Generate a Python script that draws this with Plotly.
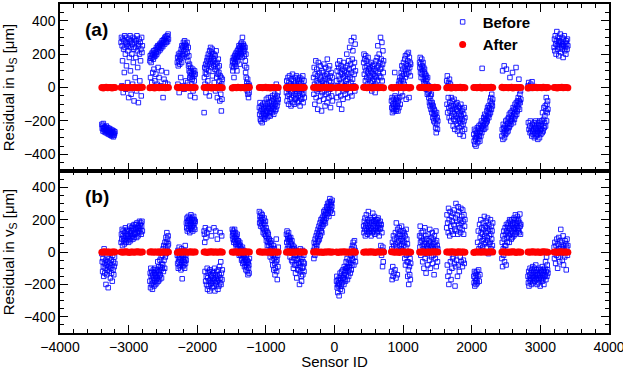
import numpy as np
import plotly.graph_objects as go
from plotly.subplots import make_subplots

# sensor ID span of each of the 18 modules
mod_start = [-3390, -3110, -2690, -2290, -1900, -1490, -1095, -700, -305,
             30, 425, 830, 1240, 1635, 2030, 2440, 2820, 3200]
mod_end = [-3200, -2800, -2420, -2030, -1635, -1240, -820, -440, -30,
           305, 715, 1110, 1505, 1900, 2305, 2715, 3110, 3400]

# residual in u_S before alignment [um], one list per module (left to right in sensor ID)
before_u = [
    [-220, -245, -230, -260, -215, -250, -240, -265, -235, -255, -245, -270, -230, -260, -250, -275, -240, -265,
     -255, -280, -245, -270, -260, -285, -250, -275, -265, -290, -255, -280, -270, -295, -260, -285, -275, -265],
    [270, 300, 10, 250, 160, 290, -30, 230, 280, 90, 310, 240, 200, -10, 270, 130, 300, 260, 30, 220,
     250, -60, 290, 180, 270, 310, 100, 240, -40, 280, 200, 260, 20, 300, 150, 230, -80, 270, 290, 60,
     240, 180, 280, -20, 310, 220, 120, 260, -90, 250, 290, 200, 40, 270, 160, 230, -50, 300, 210, 250],
    [160, 190, 60, 175, 150, 200, 30, 180, 210, 90, 195, 170, 220, 110, 185, 205, 40, 225, 190, 80,
     210, 240, 200, 20, 230, 250, 120, 215, 245, 60, 240, 260, 225, 10, 255, 235, 270, 100, 250, 280,
     265, 245, -60, 285, 270, 50, 290, 260, 300, 30, 280, 305, 270, 90, 295, 310, 275, 20, 320, 290],
    [150, 180, 20, 130, 200, 160, -30, 190, 140, 170, 210, 60, 180, 230, 150, 250, 200, 10, 240, 190,
     270, 220, 250, -10, 280, 240, 260, 200, 40, 230, 250, 180, 270, 210, 30, 160, 240, 130, 190, 100,
     140, 60, 90, -50, 120, 70, 100, 20, 80, 50, 60, 110, -20, 90, 0, 70, 40, 100, -60, 80],
    [-150, 60, 120, 20, 90, 140, -30, 110, 80, 160, 130, 180, 40, 150, 200, 100, 170, -50, 220, 140,
     190, 240, 160, 120, 210, 180, 230, 70, 200, 150, 170, 130, 200, 30, 160, 110, 190, -20, 140, 220,
     100, 60, 150, -60, 120, 80, 170, 0, 90, 130, 40, -80, 70, 10, -40, 60, -140, 20, -70, 50],
    [130, 160, 100, 150, 180, 120, 60, 170, 140, 190, 150, 200, 170, 130, 210, 180, 100, 190, 220, 160,
     200, 230, 180, 250, 210, 140, 240, 190, 220, 260, 230, 200, 270, 250, 180, 300, 240, 210, 260, 230,
     250, 190, 220, 130, 240, 160, 90, 200, 60, 120, 30, 10, -20, 50, -40, 0, -60, 20, -30, 10],
    [-120, -160, -90, -190, -140, -200, -110, -170, -130, -210, -150, -100, -180, -130, -160, -120, -190, -90, -170, -140,
     -110, -160, -70, -140, -180, -100, -150, -120, -60, -170, -130, -90, -150, -110, -170, -60, -140, -100, -120, -80,
     -150, -50, -110, -130, -70, -160, -90, -120, -40, -140, -100, -60, -130, 20, -80, -110, -50, -90, -30, -70],
    [-30, 40, -80, 10, -50, 60, -10, -100, 30, -40, 70, 0, -70, 20, -20, -110, 50, -60, 10, -30,
     80, -90, 0, 40, -50, 20, -100, -10, 60, -70, -40, 30, -60, 70, -20, 10, -90, 50, -10, -50,
     20, -80, 40, -30, 60, -110, 0, -60, 30, -20, -70, 50, -10, -40, 70, -90, 10, -30, 40, -60],
    [60, -40, 120, 20, -100, 80, 0, 160, -60, 40, 110, -20, 70, -130, 30, 150, -10, 90, -80, 50,
     0, 130, -50, 60, 20, -140, 100, -30, 40, 10, 90, -70, 140, 30, -20, 70, -110, 50, 120, -40,
     20, 80, -90, 170, 0, 60, -30, 110, -60, 40, 130, -10, 70, -120, 30, 90, -50, 10, 60, -80],
    [40, -60, 100, 10, 140, -30, 70, 120, -100, 50, 160, 0, 90, -50, 130, 30, -130, 80, 20, 110,
     -70, 60, 150, -20, 100, 10, 70, -40, 120, 40, 90, -10, 200, 50, 130, -60, 80, 20, 160, 0,
     110, 240, 60, -30, 140, 30, 280, 90, -50, 170, 50, 220, 120, 10, 300, 80, 150, -20, 260, 100],
    [150, 200, 80, 170, 120, 40, 190, 100, 160, 60, 130, 20, 90, 180, 50, 110, 140, 0, 70, 120,
     30, 100, 60, 150, -20, 90, 40, 130, 80, 10, 110, 50, 140, 70, -30, 100, 20, 160, 60, 120,
     180, 40, 250, 90, 130, 0, 200, 70, 150, 110, 300, 60, 170, 120, 270, 40, 140, 220, 90, 160],
    [-80, -120, -60, -150, -100, -130, -70, -110, -140, -90, 90, -50, -120, -100, -140, -70, -130, -60, -110, -90,
     -140, -80, 20, -120, 40, -60, 60, -100, 30, -30, 90, 50, 130, 70, -50, 110, 40, 150, 80, 20,
     120, 170, 60, 190, 100, -70, 140, 80, 200, 110, 160, 130, 210, 90, -60, 180, 120, 150, 70, 140],
    [150, 120, 180, 90, 140, 60, 110, 170, 80, 130, 100, 150, 50, 120, 30, 90, 110, 60, 20, 80,
     40, 70, -10, 50, 20, -40, 60, 0, -30, 10, -60, -20, -90, 0, -110, -50, -80, -130, -40, -100,
     -150, -90, -120, -180, -110, -160, -200, -130, -170, -140, -210, -160, -240, -190, -270, -150, -220, -180, -250, -200],
    [40, -100, 70, -150, 10, -60, 30, -120, -180, 50, -90, -140, 20, -200, -110, -60, -170, 0, -130, -80,
     -150, -230, -110, -190, -70, -160, -250, -120, -200, -100, -170, -130, -220, -90, -180, -260, -140, -110, -200, -160,
     -240, -120, -190, -280, -150, -210, -100, -170, -230, -140, -190, -260, -130, -220, -290, -160, -200, -120, -250, -180],
    [-280, -320, -250, -340, -300, -260, -310, -350, -290, -270, -300, -240, -330, -280, -250, -310, -230, -290, -270, -320,
     -260, -220, -290, -240, -200, -270, 115, -230, -250, -210, -230, -180, -250, -200, -160, -220, -190, -240, -170, -210,
     -190, -140, -200, -120, -170, -150, -110, -180, -130, -160, -120, -80, -150, -60, -100, -130, -40, -90, -110, -70],
    [-290, -250, 100, -310, -220, -270, -240, 130, -300, -260, -230, -280, -200, -250, 110, -270, -220, -190, -240, -260,
     -210, -180, -240, -160, -230, 60, -200, -150, -220, -190, -170, -200, -140, 90, -180, -120, -210, -160, -130, -190,
     -150, -100, -170, -130, 120, -90, -160, -110, -140, -80, -120, -60, -100, 50, -80, -130, -40, -90, -20, -70],
    [10, -210, 30, -250, -5, -230, -270, -200, 20, -260, -240, -290, 35, -220, -260, -280, 0, -250, -210, -300,
     -230, -270, -240, -200, -290, -250, -220, -280, -260, -310, -240, -210, -270, -230, -300, -200, -260, -250, -280, -220,
     -250, -200, -270, -150, -230, -260, -190, -120, -240, -210, -170, -110, -230, -140, -60, -200, -100, -150, -80, -130],
    [240, 290, 220, 310, 260, 200, 280, 335, 250, 230, 300, 270, 190, 260, 280, 240, 320, 210,
     270, 250, 300, 230, 260, 180, 290, 250, 310, 220, 270, 240, 200, 280, 260, 230, 290, 250],
]

# residual in v_S before alignment [um]
before_v = [
    [-10, -60, -120, -40, -90, -150, 20, -70, -130, -100, -50, -200, -80, -140, -30, -110, -60, -220,
     -90, -40, -120, -70, 0, -160, -100, -50, -130, -80, -180, -20, -110, -60, -140, -90, -30, -70],
    [60, 110, 80, 140, 40, 100, 130, 70, 90, 50, 120, 80, 150, 60, 100, 130, 70, 110, 90, 140,
     100, 60, 130, 80, 160, 110, 70, 120, 90, 150, 130, 100, 160, 80, 140, 110, 170, 90, 120, 150,
     110, 170, 140, 90, 180, 120, 150, 100, 160, 130, 150, 190, 120, 170, 140, 180, 110, 160, 190, 130],
    [-180, -130, -220, -100, -150, -200, -120, -170, -230, -140, -190, -110, -160, -210, -130, -180, -100, -150, -200, -120,
     -170, -140, -190, -110, -160, -60, -130, -180, -90, -150, -120, -170, -50, -140, -90, -110, -30, -160, -70, -100,
     -20, -80, 20, -120, 40, -50, 0, -100, 60, -30, 30, 90, -10, 60, 120, 10, 80, 40, 100, 50],
    [-20, -70, 10, -100, -40, -60, 30, -90, -30, -50, -80, 0, -110, -40, 20, -70, -165, -20, -90, -50,
     -30, -80, 10, -60, -100, -40, 40, -70, -20, -50, 180, 150, 210, 130, 190, 170, 220, 140, 200, 160,
     190, 120, 210, 170, 150, 230, 180, 140, 200, 160, 210, 130, 190, 170, 220, 150, 200, 180, 140, 190],
    [130, 110, 60, -120, 150, -180, 90, -150, -200, 120, -100, -230, -160, -130, -210, 140, -180, -120, -240, -110,
     -170, -200, -140, -190, 100, -150, -220, -120, -180, -160, -130, -210, 150, -170, -100, -240, -140, -190, 130, -160,
     -200, -120, -180, 80, -150, -230, -110, -170, -210, -140, -90, -190, 120, -160, -60, -200, -130, 100, -170, -110],
    [140, 100, 120, 80, 130, 60, 110, 90, 140, 70, 90, 120, 50, 100, 30, 80, 60, 110, 20, 70,
     40, 70, 0, 50, -20, 30, 60, -10, 40, 10, -20, 20, -50, 0, -40, 30, -70, -10, -30, 10,
     -60, -20, -90, -40, 0, -80, -50, -110, -30, -70, -90, -50, -120, -70, -140, -60, -100, -80, -130, -40],
    [250, 180, 220, 200, 160, 240, 190, 210, 170, 230, 150, 200, 120, 180, 140, 210, 110, 170, 130, 190,
     100, 150, 70, 130, 90, 40, 120, 60, 110, 80, 40, 80, 0, 60, -30, 30, 70, -10, 50, 20,
     -50, 10, -80, -20, 40, -110, -40, 20, -70, -140, -100, -30, -60, 80, -120, -50, -170, -20, -90, 30],
    [110, 60, 130, 20, 80, 100, 40, 120, 70, 90, 30, 80, -30, 60, 90, 10, 50, -50, 70, 20,
     -60, 40, 0, -100, 20, -40, 30, -80, 10, -20, -130, 10, -80, -20, -160, -50, 0, -110, -40, -70,
     -110, 0, -70, -200, -30, -90, 20, -120, -60, -150, -180, -40, -100, 10, -140, -60, -90, -20, -120, -70],
    [10, -40, 60, 30, -20, 80, 0, 50, 100, 20, 40, 120, 60, 90, 140, 70, 110, 160, 80, 130,
     180, 100, 150, 200, 130, 170, 120, 210, 160, 190, 220, 170, 250, 200, 190, 230, 260, 180, 240, 210,
     250, 280, 230, 270, 300, 240, 260, 290, 220, 310, 270, 330, 250, 290, 310, 260, 300, 280, 320, 240],
    [-180, -150, -220, -200, -250, -170, -210, -190, -270, -160, -200, -130, -230, -170, -150, -210, -120, -190, -240, -160,
     -110, -160, -140, -200, -90, -170, -130, -120, -180, -100, -60, -140, -100, -40, -170, -90, -120, -70, -150, -110,
     -50, -90, 0, -130, -70, -20, -110, 20, -80, -40, 40, -50, 60, -10, -80, 30, 70, -30, 10, -60],
    [160, 120, 190, 140, 210, 100, 170, 150, 230, 130, 180, 110, 200, 160, 250, 140, 120, 190, 170, 130,
     210, 150, 100, 180, 140, 200, 120, 240, 160, 190, 130, 170, 220, 110, 190, 150, 200, 140, 180, 120,
     200, 160, 130, 210, 150, 180, 100, 170, 140, 190, 150, 40, 170, -20, 120, 10, -90, 30, -60, 0],
    [-120, 20, -170, 60, -90, -150, 100, 40, -130, 80, 0, -110, 120, 50, -160, 180, 30, 90, -140, 140,
     60, 10, 110, 70, 150, 40, 100, 0, 130, 80, 20, 160, 50, 110, 70, 10, 130, 90, 40, 120,
     60, -40, 100, -80, 30, 140, -20, 80, -60, 50, -150, -60, -110, -200, -10, -90, -140, -40, -170, -70],
    [100, 30, 160, 60, -20, 90, 120, 0, 70, 40, -60, 130, 20, 80, -100, 50, 10, 150, -40, 60,
     100, -130, 30, 80, -10, 40, -80, 20, 110, 50, 0, 70, -50, 140, 30, -100, 60, 10, 90, -30,
     40, 120, -70, 20, 80, -20, 50, -140, 100, 10, 60, -40, 30, 130, -90, 70, 0, 40, -60, 20],
    [150, 230, -80, 180, -150, 120, 270, -200, 200, -120, 100, 250, -60, 160, -170, 220, 130, -100, 190, -40,
     240, 110, -30, 170, 260, -70, 140, -210, 210, -90, 300, 130, -50, 190, 230, -150, 110, 280, -80, 170,
     250, -120, 150, 200, -30, 120, 270, -60, 180, 220, 140, -90, 260, 190, -50, 110, 230, -70, 160, 200],
    [-150, -190, -120, -210, -160, -130, -180, -200, -140, -170, -120, -190, 60, -150, 130, -110, 20, -180, 170, -140,
     90, 40, 200, 120, 10, 150, 70, 110, 30, 180, 80, 140, 50, 220, 100, 0, 160, 60, 120, 190,
     30, 150, 90, 210, 70, 130, -10, 170, 100, 50, 140, 60, 200, 110, 20, 160, 80, 130, 40, 180],
    [-40, 60, -90, 100, 20, -20, 130, 80, -60, 40, 150, 110, 40, -80, 170, 130, 90, 60, 160, 120,
     180, 100, 150, 60, 200, 140, 190, 110, 170, 80, 130, 200, 90, 160, 120, 180, 150, 100, 210, 140,
     170, 110, 230, 150, 200, 120, 180, 160, 220, 140, 190, 130, 200, 150, 120, 180, 235, 160, 110, 170],
    [-150, -190, -120, -210, -170, -140, -100, -180, -160, -130, -200, -110, -150, -170, -90, -190, -140, -120, -160, -100,
     -180, -130, -150, -80, -170, -110, -140, -200, -120, -160, -140, -190, -100, -170, -130, -150, -210, -110, -160, -120,
     -170, -130, -90, -180, -140, -110, -160, -200, -120, -150, -100, -140, -60, -170, -120, -30, -150, -80, -110, -130],
    [30, -40, 60, 0, -70, 40, -20, 80, 10, -100, 50, -30, 90, 20, -60, 70, 0, 140,
     30, -10, 60, -50, 20, 100, -80, 40, 10, -30, 70, 0, 50, -110, 30, 80, -20, 40],
]

# residuals after alignment [um]
after_u = [
    [1, -2, 0, 2, -1, 1, 0, -2, 1, 0],
    [0, 2, -1, 1, -2, 0, 1, -1, 2, 0, -1, 1, 0, 2],
    [-1, 0, 2, -2, 1, 0, -1, 1, 0, 2, -1, 0, 1],
    [2, -1, 0, 1, -2, 0, 1, 0, -1, 2, 0, -1, 1],
    [0, 1, -1, 2, 0, -2, 1, 0, -1, 1, 2, 0, -1],
    [-2, 0, 1, -1, 2, 0, -1, 1, 0, -2, 1, 0, 2],
    [1, 0, -1, 0, 2, -1, 1, -2, 0, 1, 0, -1, 1],
    [0, -1, 2, 0, -2, 1, 0, 1, -1, 0, 2, -1, 0],
    [1, 2, -1, 0, 1, -2, 0, 2, -1, 1, 0, -2, 1],
    [-1, 0, 1, 2, -1, 0, -2, 1, 0, 1, -1, 0, 2],
    [2, 0, -1, 1, 0, -2, 1, 0, 2, -1, 0, 1, -1],
    [0, -2, 1, 0, -1, 2, 0, 1, -1, 0, 1, -2, 0],
    [1, 0, 2, -1, 0, 1, -2, 0, 1, -1, 2, 0, 1],
    [-1, 1, 0, -2, 2, 0, -1, 1, 0, 2, -1, 0, -1],
    [0, 1, -1, 0, 2, -2, 1, 0, -1, 1, 0, 2, 0],
    [2, -1, 0, 1, -1, 0, 2, -2, 0, 1, -1, 0, 1],
    [-2, 0, 1, -1, 0, 2, -1, 1, 0, -1, 2, 0, -1, 1],
    [0, 1, -2, 1, 0, 2, -1, 0, 1, -1],
]
after_v = [
    [-1, 0, 2, -1, 1, 0, -2, 1, 0, 1],
    [1, -1, 0, 2, 0, -2, 1, 0, -1, 1, 2, 0, -1, 1],
    [0, 2, -1, 1, 0, -1, 2, -2, 0, 1, 0, -1, 1],
    [-2, 1, 0, -1, 2, 0, 1, -1, 0, 2, -1, 1, 0],
    [1, 0, -2, 0, 1, 2, -1, 0, 1, -1, 0, 2, -1],
    [0, -1, 1, 2, -2, 0, 1, 0, -1, 2, 1, 0, 1],
    [2, 0, -1, 1, 0, -1, 0, 2, -2, 1, 0, -1, 0],
    [-1, 2, 0, -2, 1, 0, -1, 1, 2, 0, -1, 0, 1],
    [0, 1, 2, 0, -1, 1, -2, 0, 1, 0, 2, -1, 0],
    [1, -2, 0, 1, 0, 2, -1, 0, -1, 1, 0, 2, -1],
    [-1, 0, 1, -1, 2, 0, 0, -2, 1, 2, -1, 0, 1],
    [2, 1, -1, 0, 0, -2, 1, 2, 0, -1, 1, 0, -1],
    [0, -1, 2, 1, -2, 0, 1, -1, 0, 2, 0, 1, 0],
    [1, 0, -1, 2, 0, 1, -2, 0, 2, -1, 1, 0, -1],
    [-2, 1, 0, 0, 1, -1, 2, 0, -1, 0, 1, 2, 0],
    [0, 2, -1, 1, -1, 0, 0, 2, 1, -2, 0, 1, -1],
    [1, -1, 0, 2, 0, -1, 1, 0, -2, 1, 2, 0, 1, -1],
    [0, 1, -2, 1, 0, 2, -1, 0, 1, -1],
]


def spread(vals_list):
    xs, ys = [], []
    for s, e, vals in zip(mod_start, mod_end, vals_list):
        xs.extend(np.linspace(s, e, len(vals)))
        ys.extend(vals)
    return xs, ys


fig = make_subplots(rows=2, cols=1, shared_xaxes=True, vertical_spacing=0)

blue = dict(symbol="square-open", size=4.5, color="rgba(0,0,255,0.85)", line=dict(width=1))
red = dict(symbol="circle", size=7, color="#ff0000")

for row, before, after in [(1, before_u, after_u), (2, before_v, after_v)]:
    bx, by = spread(before)
    ax, ay = spread(after)
    fig.add_trace(go.Scatter(x=bx, y=by, mode="markers", marker=blue, name="<b>Before</b>",
                             showlegend=(row == 1), hoverinfo="skip"), row=row, col=1)
    fig.add_trace(go.Scatter(x=ax, y=ay, mode="markers", marker=red, name="<b>After</b>",
                             showlegend=(row == 1), hoverinfo="skip"), row=row, col=1)

font = "Liberation Sans, Arial, Helvetica, sans-serif"
axis_style = dict(showline=True, linecolor="black", linewidth=1.5, mirror="ticks",
                  ticks="inside", ticklen=8, tickwidth=1, tickcolor="black", automargin=False,
                  ticklabeloverflow="allow",
                  showgrid=False, zeroline=False, tickfont=dict(size=14, color="black"))

fig.update_xaxes(range=[-4000, 4000], dtick=1000,
                 minor=dict(dtick=200, ticks="inside", ticklen=4, tickcolor="black"),
                 **axis_style)
fig.update_xaxes(showticklabels=False, row=1, col=1)
fig.update_xaxes(title=dict(text="Sensor ID", font=dict(size=15, color="black"), standoff=2), row=2, col=1)
fig.update_yaxes(range=[-500, 500], tickvals=[-400, -200, 0, 200, 400],
                 minor=dict(dtick=50, ticks="inside", ticklen=4, tickcolor="black"),
                 **axis_style)
fig.update_yaxes(title=dict(text="Residual in u<sub>S</sub> [μm]", font=dict(size=15, color="black")),
                 domain=[0.492, 1.0], row=1, col=1)
fig.update_yaxes(title=dict(text="Residual in v<sub>S</sub> [μm]", font=dict(size=15, color="black")),
                 domain=[0.0, 0.492], row=2, col=1)

fig.add_annotation(text="<b>(a)</b>", x=0.042, y=0.922, xref="paper", yref="paper",
                   xanchor="left", yanchor="middle", showarrow=False,
                   font=dict(size=19, color="black"))
fig.add_annotation(text="<b>(b)</b>", x=0.042, y=0.415, xref="paper", yref="paper",
                   xanchor="left", yanchor="middle", showarrow=False,
                   font=dict(size=19, color="black"))

fig.update_layout(
    width=623, height=370,
    margin=dict(l=60, r=14, t=4, b=37),
    plot_bgcolor="white", paper_bgcolor="white",
    font=dict(family=font, color="black"),
    hovermode=False,
    legend=dict(x=0.697, y=0.995, xanchor="left", yanchor="top",
                bgcolor="rgba(0,0,0,0)", font=dict(size=15, color="black"),
                tracegroupgap=0),
)

# the page's default 8px body margin would shift the figure
fig.write_html("out.html", config={"displayModeBar": False},
               post_script="document.body.style.margin='0';")
